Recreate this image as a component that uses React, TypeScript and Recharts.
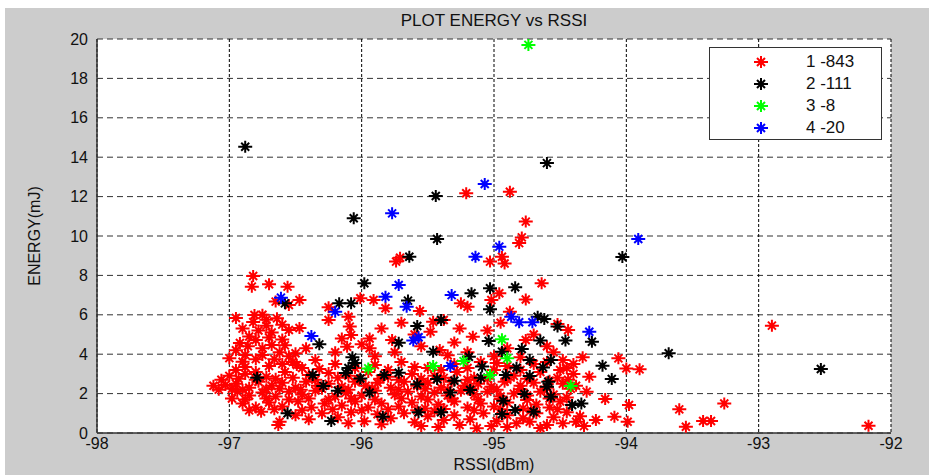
import {
  CartesianGrid,
  Legend,
  Scatter,
  ScatterChart,
  XAxis,
  YAxis,
} from "recharts";

// RSSI (dBm), energy (mJ) pairs, one list per cluster
const cluster1: [number, number][] = [
  // outliers
  [-95.21, 12.17], [-94.88, 12.25], [-94.76, 10.73], [-94.79, 9.93], [-94.81, 9.64],
  [-95.71, 8.9], [-95.74, 8.7], [-94.94, 8.95], [-95.03, 8.7], [-94.92, 8.6],
  [-94.64, 7.6], [-96.82, 7.97], [-96.83, 7.43], [-96.7, 7.55], [-96.56, 7.43],
  [-96.65, 6.67], [-96.47, 6.75], [-96.55, 6.5], [-96.01, 6.84], [-95.91, 6.75],
  [-95.82, 6.33], [-95.56, 6.19], [-96.25, 6.38], [-95.25, 6.58], [-95.2, 6.41],
  [-95.02, 6.75], [-94.96, 7.09], [-94.76, 6.78], [-94.88, 6.16], [-92.9, 5.45],
  // left group
  [-96.81, 5.99], [-96.75, 6.0], [-96.95, 5.84], [-96.64, 5.82], [-96.82, 5.63],
  [-96.72, 5.45], [-96.55, 5.23], [-96.47, 5.33], [-96.9, 5.3], [-96.68, 5.1],
  [-96.8, 4.72], [-96.92, 4.57], [-96.68, 4.47], [-96.6, 4.75], [-96.85, 4.9],
  [-96.75, 4.3], [-96.62, 4.1], [-96.88, 3.96], [-96.75, 3.96], [-97.0, 3.8],
  [-96.9, 3.62], [-96.49, 3.45], [-96.55, 3.9], [-96.42, 4.3], [-96.35, 3.7],
  [-96.78, 5.2], [-96.86, 4.4], [-96.7, 4.85], [-96.58, 4.45], [-96.95, 4.2],
  [-96.8, 3.75], [-96.66, 3.75], [-96.72, 5.75], [-96.6, 5.5], [-96.5, 4.05],
  // middle
  [-96.25, 5.74], [-96.1, 5.9], [-96.09, 5.4], [-96.08, 4.97], [-95.94, 4.8],
  [-95.94, 4.3], [-96.15, 4.8], [-96.11, 4.38], [-95.77, 4.72], [-95.46, 5.65],
  [-95.48, 5.14], [-95.41, 4.21], [-95.38, 5.74], [-95.26, 5.31], [-95.16, 4.89],
  [-94.76, 4.72], [-94.52, 5.53], [-94.44, 5.23], [-94.48, 3.7], [-94.33, 3.84],
  [-95.6, 5.0], [-95.7, 5.6], [-95.85, 5.3], [-95.3, 4.6], [-95.05, 5.2],
  [-94.95, 5.6], [-94.9, 4.3], [-94.6, 4.4], [-94.7, 5.0], [-95.55, 4.4],
  [-95.2, 4.1], [-95.9, 3.9], [-96.0, 4.5], [-96.2, 4.1], [-95.75, 4.1],
  [-95.35, 3.95], [-95.0, 3.9], [-94.8, 3.85], [-94.55, 4.1],
  // right, sparse
  [-94.06, 3.79], [-93.9, 3.23], [-94.0, 3.28], [-94.16, 1.73], [-93.98, 1.42],
  [-93.99, 0.57], [-93.6, 1.2], [-93.55, 0.32], [-93.42, 0.61], [-93.36, 0.61],
  [-93.26, 1.5], [-92.17, 0.37], [-94.28, 2.86], [-94.3, 2.1], [-94.09, 0.83],
  [-94.23, 0.66], [-94.38, 0.57], [-94.48, 0.49], [-94.6, 0.41], [-94.73, 0.57],
  [-94.83, 0.49], [-95.13, 0.24], [-95.26, 0.41], [-95.38, 0.66],
  // dense core
  [-96.7, 3.4], [-96.6, 3.5], [-96.45, 3.3], [-96.2, 3.5], [-95.9, 3.45],
  [-95.7, 3.6], [-95.5, 3.3], [-95.3, 3.5], [-95.1, 3.6], [-94.9, 3.4],
  [-94.7, 3.5], [-94.5, 3.2], [-94.4, 3.5], [-96.95, 3.2], [-96.8, 3.1],
  [-96.88, 3.35], [-96.52, 3.6], [-96.32, 3.25], [-96.05, 3.3], [-95.8, 3.2],
  [-95.6, 3.35], [-95.4, 3.2], [-95.2, 3.3], [-94.98, 3.55], [-94.8, 3.2],
  [-94.6, 3.6], [-94.45, 3.3],
  [-97.0, 2.9], [-96.88, 3.0], [-96.72, 2.85], [-96.58, 3.1], [-96.4, 2.95],
  [-96.25, 3.05], [-96.1, 2.9], [-95.95, 3.1], [-95.8, 2.85], [-95.62, 3.0],
  [-95.45, 2.9], [-95.28, 3.1], [-95.15, 2.8], [-95.0, 3.2], [-94.85, 2.9],
  [-94.65, 3.1], [-94.52, 2.8], [-94.4, 3.0],
  [-97.06, 2.7], [-96.93, 2.75], [-96.8, 2.7], [-96.65, 2.75], [-96.52, 2.8],
  [-96.35, 2.7], [-96.18, 2.8], [-96.02, 2.7], [-95.86, 2.75], [-95.72, 2.7],
  [-95.55, 2.75], [-95.38, 2.8], [-95.2, 2.7], [-95.05, 2.75], [-94.9, 2.7],
  [-94.75, 2.75], [-94.58, 2.65], [-94.44, 2.7],
  [-97.12, 2.4], [-97.03, 2.44], [-96.95, 2.5], [-96.85, 2.3], [-96.78, 2.6],
  [-96.68, 2.4], [-96.6, 2.55], [-96.5, 2.3], [-96.42, 2.6], [-96.33, 2.4],
  [-96.25, 2.5], [-96.15, 2.35], [-96.05, 2.6], [-95.97, 2.4], [-95.88, 2.55],
  [-95.78, 2.3], [-95.68, 2.6], [-95.58, 2.4], [-95.5, 2.55], [-95.4, 2.3],
  [-95.32, 2.6], [-95.22, 2.4], [-95.12, 2.5], [-95.02, 2.35], [-94.92, 2.6],
  [-94.8, 2.4], [-94.7, 2.55], [-94.6, 2.3], [-94.48, 2.5], [-94.38, 2.4],
  [-97.08, 2.2], [-96.98, 2.25], [-96.9, 2.2], [-96.72, 2.22], [-96.62, 2.25],
  [-96.46, 2.2], [-96.3, 2.25], [-96.1, 2.2], [-95.92, 2.25], [-95.72, 2.2],
  [-95.52, 2.25], [-95.35, 2.2], [-95.18, 2.25], [-94.98, 2.2], [-94.8, 2.22],
  [-94.62, 2.2], [-94.42, 2.25],
  [-96.94, 2.1], [-96.85, 1.9], [-96.75, 2.05], [-96.65, 1.85], [-96.55, 2.1],
  [-96.45, 1.95], [-96.35, 2.15], [-96.2, 1.85], [-96.12, 2.05], [-96.0, 1.9],
  [-95.9, 2.15], [-95.75, 1.95], [-95.65, 2.1], [-95.55, 1.85], [-95.45, 2.05],
  [-95.35, 1.9], [-95.25, 2.15], [-95.15, 1.95], [-95.05, 2.1], [-94.95, 1.85],
  [-94.85, 2.0], [-94.75, 1.9], [-94.65, 2.1], [-94.55, 1.95], [-94.45, 1.8],
  [-96.98, 1.75], [-96.88, 1.7], [-96.72, 1.75], [-96.55, 1.7], [-96.4, 1.75],
  [-96.25, 1.7], [-96.08, 1.75], [-95.9, 1.7], [-95.7, 1.75], [-95.5, 1.7],
  [-95.32, 1.75], [-95.12, 1.7], [-94.95, 1.72], [-94.75, 1.68], [-94.58, 1.75],
  [-96.9, 1.5], [-96.8, 1.3], [-96.7, 1.55], [-96.6, 1.35], [-96.48, 1.6],
  [-96.38, 1.3], [-96.28, 1.5], [-96.15, 1.4], [-96.05, 1.6], [-95.95, 1.3],
  [-95.85, 1.5], [-95.72, 1.35], [-95.62, 1.55], [-95.52, 1.25], [-95.42, 1.45],
  [-95.3, 1.6], [-95.2, 1.3], [-95.1, 1.5], [-95.0, 1.35], [-94.9, 1.55],
  [-94.78, 1.25], [-94.68, 1.45], [-94.58, 1.3], [-94.5, 1.6],
  [-96.85, 1.15], [-96.66, 1.2], [-96.45, 1.15], [-96.22, 1.2], [-96.0, 1.15],
  [-95.8, 1.2], [-95.58, 1.15], [-95.38, 1.22], [-95.15, 1.15], [-94.95, 1.2],
  [-94.72, 1.15], [-94.52, 1.2],
  [-96.76, 1.08], [-96.62, 0.57], [-96.63, 0.4], [-96.5, 0.9], [-96.4, 0.7],
  [-96.3, 1.0], [-96.18, 0.8], [-96.08, 1.05], [-95.98, 0.6], [-95.88, 0.95],
  [-95.78, 0.75], [-95.68, 1.0], [-95.6, 0.55], [-95.5, 0.85], [-95.45, 1.1],
  [-95.3, 0.9], [-95.18, 0.7], [-95.08, 1.0], [-94.98, 0.6], [-94.9, 0.9],
  [-94.78, 0.75], [-94.68, 1.0], [-94.55, 0.8], [-94.45, 1.05], [-94.35, 0.85],
  [-95.55, 0.35], [-95.42, 0.3], [-95.02, 0.35], [-94.9, 0.3], [-94.65, 0.25],
  [-94.32, 0.35], [-95.85, 0.45], [-96.1, 0.5],
];

const cluster2: [number, number][] = [
  [-96.88, 14.53], [-94.6, 13.7], [-95.44, 12.03], [-96.06, 10.9], [-95.43, 9.85],
  [-94.03, 8.93], [-95.64, 8.95], [-95.98, 7.6], [-94.84, 7.4], [-95.03, 7.35],
  [-95.17, 7.09], [-96.58, 6.58], [-96.17, 6.58], [-96.08, 6.58], [-95.65, 6.72],
  [-95.03, 6.28], [-94.67, 5.9], [-94.62, 5.79], [-94.52, 5.4], [-95.4, 5.74],
  [-95.58, 5.43], [-94.26, 4.63], [-94.46, 4.69], [-94.65, 4.69], [-96.32, 4.5],
  [-95.72, 4.58], [-93.68, 4.05], [-92.53, 3.25], [-94.18, 3.42], [-94.11, 2.74],
  [-94.41, 1.42], [-94.34, 1.5], [-94.7, 1.08], [-94.94, 0.96], [-94.84, 1.17],
  [-95.4, 1.05], [-94.57, 1.84], [-95.33, 2.05], [-95.18, 2.18], [-94.93, 1.64],
  [-94.77, 1.98], [-95.1, 2.81], [-94.91, 2.94], [-94.73, 2.89], [-94.59, 2.6],
  [-95.43, 2.74], [-95.3, 2.65], [-95.19, 3.87], [-95.04, 4.67], [-94.94, 4.13],
  [-94.79, 4.26], [-94.73, 3.7], [-94.57, 3.7], [-95.09, 3.37], [-94.83, 3.31],
  [-94.63, 3.33], [-94.6, 2.35], [-95.46, 4.13], [-96.79, 2.81], [-96.37, 2.94],
  [-96.29, 2.39], [-96.56, 1.0], [-96.23, 0.61], [-95.84, 0.83], [-96.18, 2.15],
  [-96.07, 3.84], [-96.1, 3.3], [-96.12, 3.05], [-96.01, 2.77], [-95.94, 2.05],
  [-95.83, 2.94], [-95.72, 3.06], [-95.58, 2.47], [-95.57, 1.05], [-96.05, 3.55],
];

const cluster3: [number, number][] = [
  [-94.74, 19.7], [-94.94, 4.76], [-94.9, 3.79], [-95.23, 3.65],
  [-95.46, 3.4], [-95.03, 2.94], [-94.42, 2.39], [-95.95, 3.28],
];

const cluster4: [number, number][] = [
  [-95.07, 12.64], [-95.77, 11.15], [-94.96, 9.46], [-93.91, 9.85], [-95.14, 8.95],
  [-96.61, 6.87], [-95.72, 7.51], [-95.82, 6.92], [-95.66, 6.41], [-96.2, 6.16],
  [-95.32, 7.0], [-94.87, 5.9], [-94.81, 5.62], [-94.71, 5.62], [-94.28, 5.14],
  [-96.38, 4.92], [-95.61, 4.69], [-95.57, 4.86], [-95.33, 3.4],
];

const seriesNames = ["1 -843", "2 -111", "3 -8", "4 -20"];
const seriesColors = ["#ff0000", "#000000", "#00ff00", "#0000ff"];
const xTicks = [-98, -97, -96, -95, -94, -93, -92];
const yTicks = [0, 2, 4, 6, 8, 10, 12, 14, 16, 18, 20];

const FONT = '"Liberation Sans", Arial, sans-serif';

const toPoints = (pairs: [number, number][]) =>
  pairs.map(([rssi, energy]) => ({ rssi, energy }));

const allSeries = [cluster1, cluster2, cluster3, cluster4].map((pairs, i) => ({
  name: seriesNames[i],
  color: seriesColors[i],
  data: toPoints(pairs),
}));

function starPath(cx: number, cy: number) {
  return (
    `M${cx - 7},${cy}H${cx + 7}` +
    `M${cx},${cy - 6}V${cy + 6}` +
    `M${cx - 4},${cy - 4}L${cx + 4},${cy + 4}` +
    `M${cx - 4},${cy + 4}L${cx + 4},${cy - 4}`
  );
}

function Star({ cx, cy, color }: { cx: number; cy: number; color: string }) {
  if (cx == null || cy == null) return null;
  return <path d={starPath(cx, cy)} stroke={color} strokeWidth={2} fill="none" />;
}

function LegendBox({ payload }: any) {
  return (
    <div
      style={{
        width: 173,
        height: 93,
        boxSizing: "border-box",
        border: "1.5px solid #333",
        background: "#fff",
        paddingTop: 3,
        fontFamily: FONT,
        fontSize: 17,
        color: "#111",
      }}
    >
      {(payload || []).map((entry: any) => (
        <div key={entry.value} style={{ display: "flex", alignItems: "center", height: 22 }}>
          <svg width={96} height={22} style={{ flex: "none" }}>
            <Star cx={51} cy={11} color={entry.color} />
          </svg>
          <span>{entry.value}</span>
        </div>
      ))}
    </div>
  );
}

export default function App() {
  return (
    <div
      style={{
        position: "absolute",
        left: 0,
        top: 0,
        width: 929,
        height: 475,
        background: "#fff",
        fontFamily: FONT,
        overflow: "hidden",
      }}
    >
      <div
        style={{ position: "absolute", left: 5, top: 8, right: 0, bottom: 0, background: "#cccccc" }}
      />
      <div style={{ position: "absolute", left: 0, top: 0 }}>
        <ScatterChart
          width={929}
          height={475}
          margin={{ top: 39, right: 38, bottom: 12, left: 37 }}
        >
          <CartesianGrid
            vertical={false}
            fill="#ffffff"
            stroke="#333"
            strokeDasharray="6 4"
          />
          <CartesianGrid horizontal={false} stroke="#000" strokeDasharray="3 2" />
          <XAxis
            type="number"
            dataKey="rssi"
            domain={[-98, -92]}
            ticks={xTicks}
            allowDataOverflow
            height={30}
            tickLine={false}
            tickSize={0}
            tickMargin={5}
            axisLine={{ stroke: "#333", strokeWidth: 1.5 }}
            tick={{ fill: "#111", fontSize: 16, fontFamily: FONT }}
          />
          <YAxis
            type="number"
            dataKey="energy"
            domain={[0, 20]}
            ticks={yTicks}
            allowDataOverflow
            width={60}
            tickLine={false}
            tickSize={0}
            tickMargin={9}
            axisLine={{ stroke: "#333", strokeWidth: 1.5 }}
            tick={{ fill: "#111", fontSize: 16, fontFamily: FONT }}
          />
          <Legend
            layout="horizontal"
            verticalAlign="middle"
            align="center"
            content={<LegendBox />}
            wrapperStyle={{ position: "absolute", left: 709, top: 47, width: 173, height: 93 }}
          />
          {allSeries.map((s) => (
            <Scatter
              key={s.name}
              name={s.name}
              data={s.data}
              fill={s.color}
              isAnimationActive={false}
              shape={(p: any) => <Star cx={p.cx} cy={p.cy} color={s.color} />}
            />
          ))}
        </ScatterChart>
      </div>
      <div
        style={{
          position: "absolute",
          left: 97,
          width: 794,
          top: 11,
          textAlign: "center",
          fontSize: 17,
          color: "#111",
        }}
      >
        PLOT ENERGY vs RSSI
      </div>
      <div
        style={{
          position: "absolute",
          left: 97,
          width: 794,
          top: 456,
          textAlign: "center",
          fontSize: 16,
          lineHeight: "18px",
          color: "#111",
        }}
      >
        RSSI(dBm)
      </div>
      <div
        style={{
          position: "absolute",
          left: 35,
          top: 236,
          transform: "translate(-50%, -50%) rotate(-90deg)",
          fontSize: 16,
          color: "#111",
          whiteSpace: "nowrap",
        }}
      >
        ENERGY(mJ)
      </div>
    </div>
  );
}
